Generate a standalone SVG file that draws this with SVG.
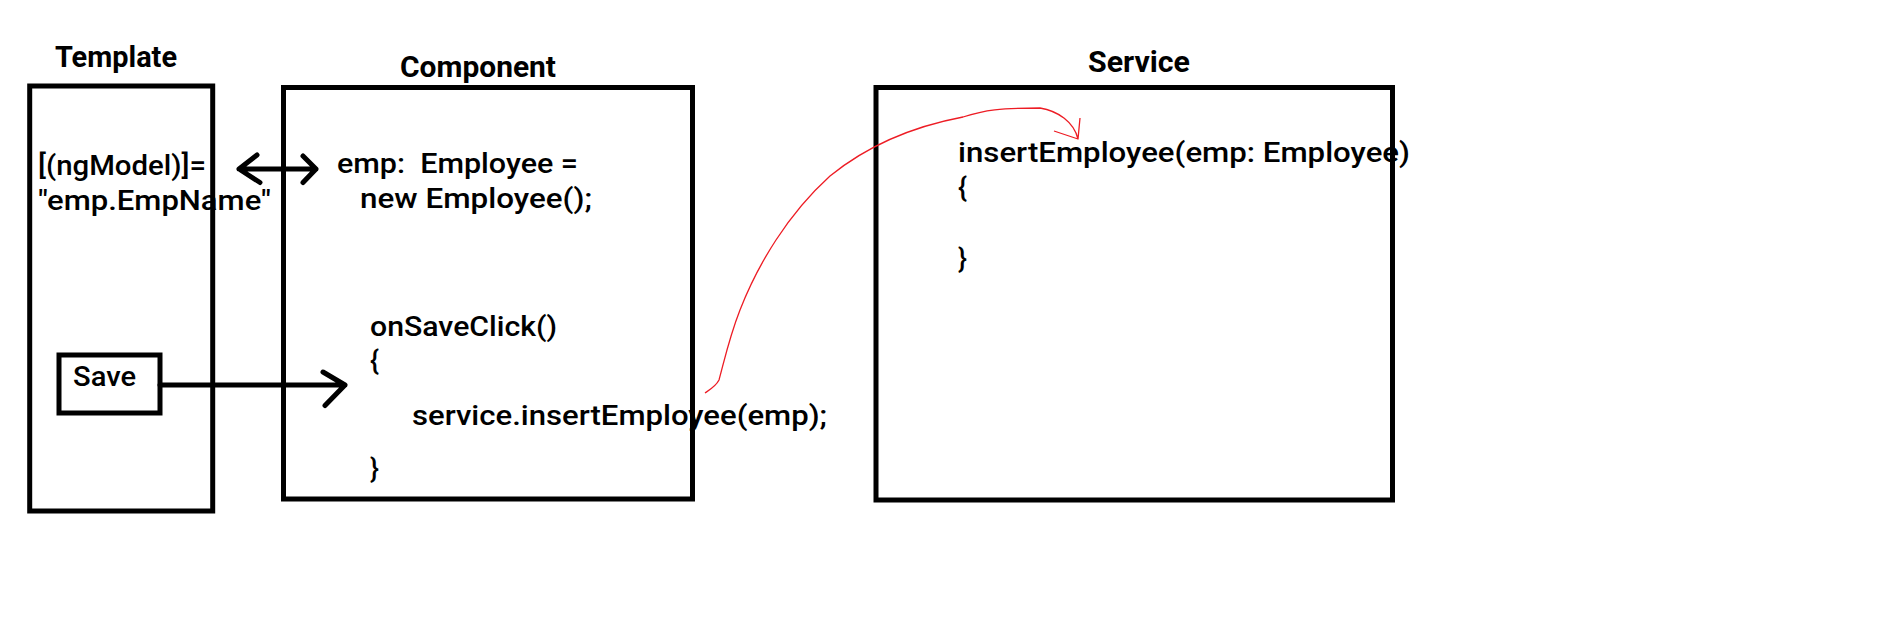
<svg xmlns="http://www.w3.org/2000/svg" width="1884" height="623" viewBox="0 0 1884 623">
<style>
.box{fill:none;stroke:#000;stroke-width:5}
.t{font-family:Roboto,"Liberation Sans",sans-serif;font-size:27px;font-weight:500;fill:#000;white-space:pre}
.h{font-family:Roboto,"Liberation Sans",sans-serif;font-size:29px;font-weight:700;fill:#000}
.blk{fill:none;stroke:#000;stroke-width:5;stroke-linecap:round;stroke-linejoin:round}
.red{fill:none;stroke:#ed1c24;stroke-width:1.3;stroke-linejoin:round}
</style>
<rect width="1884" height="623" fill="#fff"/>
<g id="template">
<text class="h" x="55" y="67" textLength="122" lengthAdjust="spacingAndGlyphs">Template</text>
<text class="t" x="38" y="175" textLength="168" lengthAdjust="spacingAndGlyphs">[(ngModel)]=</text>
<text class="t" x="38" y="210" textLength="233" lengthAdjust="spacingAndGlyphs">"emp.EmpName"</text>
<rect class="box" x="29.7" y="86" width="183" height="425"/>
</g>
<g id="save">
<rect class="box" x="59" y="355" width="101" height="58"/>
<text class="t" x="73" y="386" textLength="63" lengthAdjust="spacingAndGlyphs">Save</text>
</g>
<g id="component">
<text class="h" x="400" y="76.5" textLength="156" lengthAdjust="spacingAndGlyphs">Component</text>
<text class="t" x="337" y="172.7" textLength="241" lengthAdjust="spacingAndGlyphs">emp:  Employee =</text>
<text class="t" x="360" y="208.3" textLength="232" lengthAdjust="spacingAndGlyphs">new Employee();</text>
<text class="t" x="370" y="336" textLength="187" lengthAdjust="spacingAndGlyphs">onSaveClick()</text>
<text class="t" x="370" y="370">{</text>
<text class="t" x="412" y="425" textLength="415" lengthAdjust="spacingAndGlyphs">service.insertEmployee(emp);</text>
<text class="t" x="370" y="478">}</text>
<rect class="box" x="283.5" y="87.5" width="409" height="411.5"/>
</g>
<g id="service">
<text class="h" x="1088" y="71.7" textLength="102" lengthAdjust="spacingAndGlyphs">Service</text>
<text class="t" x="958" y="161.7" textLength="452" lengthAdjust="spacingAndGlyphs">insertEmployee(emp: Employee)</text>
<text class="t" x="958" y="197">{</text>
<text class="t" x="958" y="268">}</text>
<rect class="box" x="876" y="87.5" width="516.5" height="412.5"/>
</g>
<g id="connectors">
<path class="blk" d="M239,169 L316,169 M257,155 L239,169 L260,182.5 M303,156 L316,169 L303,182.5"/>
<path class="blk" d="M160,385 L345,385 M323,372 L345,385 L325,405.5"/>
<path class="red" d="M705,393 C711,389 716,386 719,380 C724,362 729,338 740,310 C758,264 788,214 830,176 C862,150 905,128 963,117 C985,110 1000,108 1040,108 C1058,111 1074,122 1078,139 M1080,118 L1078,139 L1054,131"/>
</g>
</svg>
